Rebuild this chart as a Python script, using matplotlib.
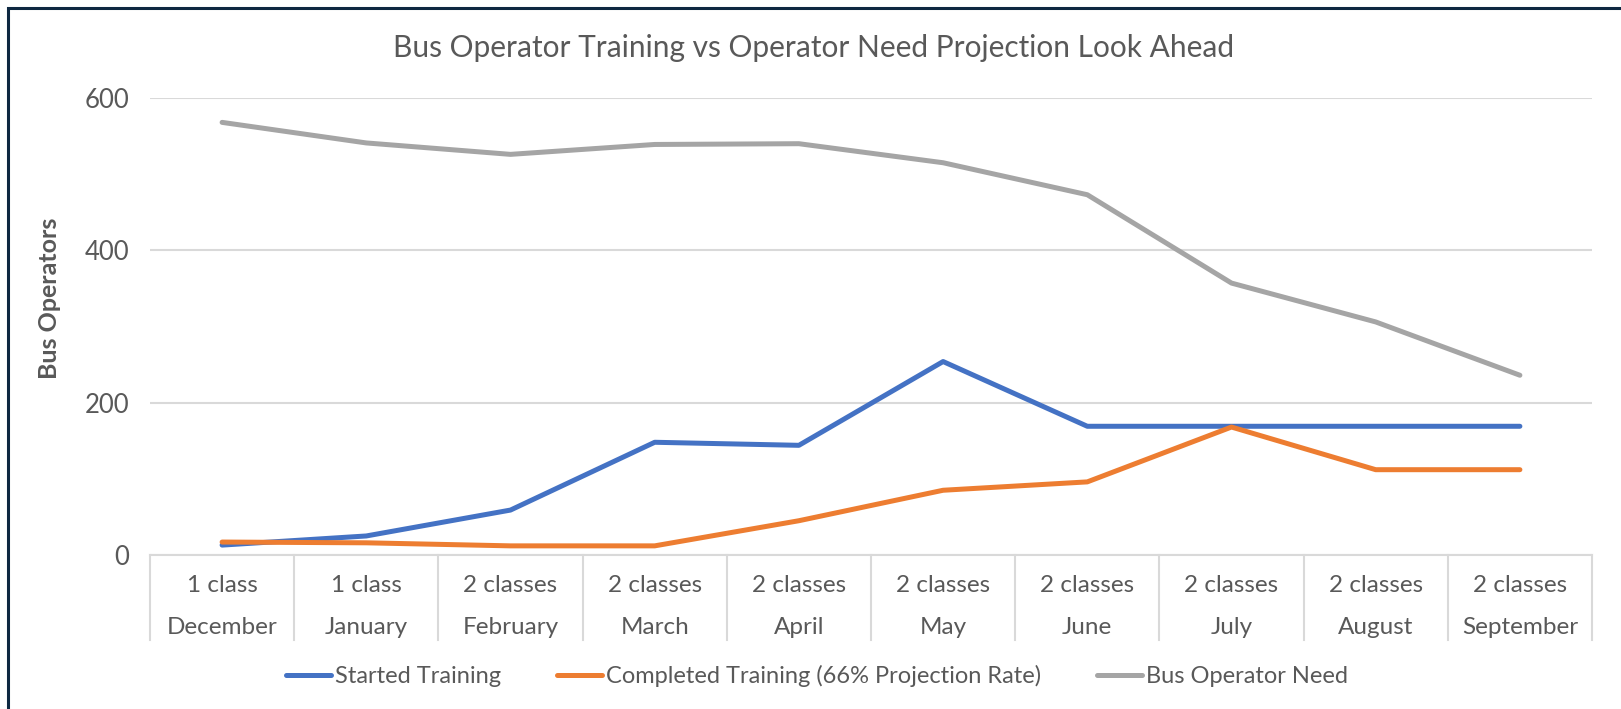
import matplotlib
matplotlib.use("Agg")
import matplotlib.pyplot as plt
from matplotlib.patches import Rectangle

plt.rcParams['font.family'] = ['Lato', 'DejaVu Sans']

# data
months = ["December", "January", "February", "March", "April",
          "May", "June", "July", "August", "September"]
classes = ["1 class", "1 class", "2 classes", "2 classes", "2 classes",
           "2 classes", "2 classes", "2 classes", "2 classes", "2 classes"]
started = [13, 25, 59, 148, 144, 254, 169, 169, 169, 169]
completed = [17, 16, 12, 12, 45, 85, 96, 168, 112, 112]
need = [568, 541, 526, 539, 540, 515, 473, 357, 306, 236]

text_col = "#595959"
grid_col = "#d9d9d9"

W, H = 1621, 709
fig = plt.figure(figsize=(W / 100, H / 100), dpi=100)

# navy frame (cut off at right and bottom like the screenshot)
fig.patches.append(Rectangle((8 / W, -0.1), 1.2, 1 - 8 / H + 0.1, transform=fig.transFigure,
                             fill=False, edgecolor="#0e2841", linewidth=2.2))

left, right, bottom, top = 150, 1592, 555, 98
ax = fig.add_axes([left / W, 1 - bottom / H, (right - left) / W, (bottom - top) / H])
x = list(range(len(months)))
ax.plot(x, started, color="#4472C4", lw=3.6, solid_capstyle="round", label="Started Training")
ax.plot(x, completed, color="#ED7D31", lw=3.6, solid_capstyle="round",
        label="Completed Training (66% Projection Rate)")
ax.plot(x, need, color="#A5A5A5", lw=3.6, solid_capstyle="round", label="Bus Operator Need")

ax.set_xlim(-0.5, len(months) - 0.5)
ax.set_ylim(0, 600)
ax.set_yticks([0, 200, 400, 600])
ax.tick_params(axis="y", length=0, pad=15, labelsize=18.5, labelcolor=text_col)
ax.set_xticks([])
ax.grid(axis="y", color=grid_col, lw=1.5)
ax.set_axisbelow(True)
for s in ["top", "right", "left"]:
    ax.spines[s].set_visible(False)
ax.spines["bottom"].set_color(grid_col)
ax.spines["bottom"].set_linewidth(1.5)

# multi-level category labels with separators
ph = bottom - top
xt = ax.get_xaxis_transform()
for b in range(len(months) + 1):
    ax.plot([b - 0.5, b - 0.5], [0, -(640 - bottom) / ph], transform=xt,
            color=grid_col, lw=1.5, clip_on=False)
for i in x:
    ax.text(i, -(585 - bottom) / ph, classes[i], transform=xt,
            ha="center", va="center", fontsize=17.5, color=text_col)
    ax.text(i, -(628 - bottom) / ph, months[i], transform=xt,
            ha="center", va="center", fontsize=17.5, color=text_col)

fig.text(50 / W, 1 - 298 / H, "Bus Operators", rotation=90, ha="center", va="center",
         fontsize=18, fontweight="bold", color=text_col)
fig.text(814 / W, 1 - 48 / H, "Bus Operator Training vs Operator Need Projection Look Ahead",
         ha="center", va="center", fontsize=21.5, color=text_col)

leg = fig.legend(loc="center", bbox_to_anchor=(817 / W, 1 - 676 / H), ncol=3, frameon=False,
                 fontsize=17, handlelength=1.9, handletextpad=0.15, columnspacing=2.4)
for t in leg.get_texts():
    t.set_color(text_col)

fig.savefig("out.png", dpi=100)
